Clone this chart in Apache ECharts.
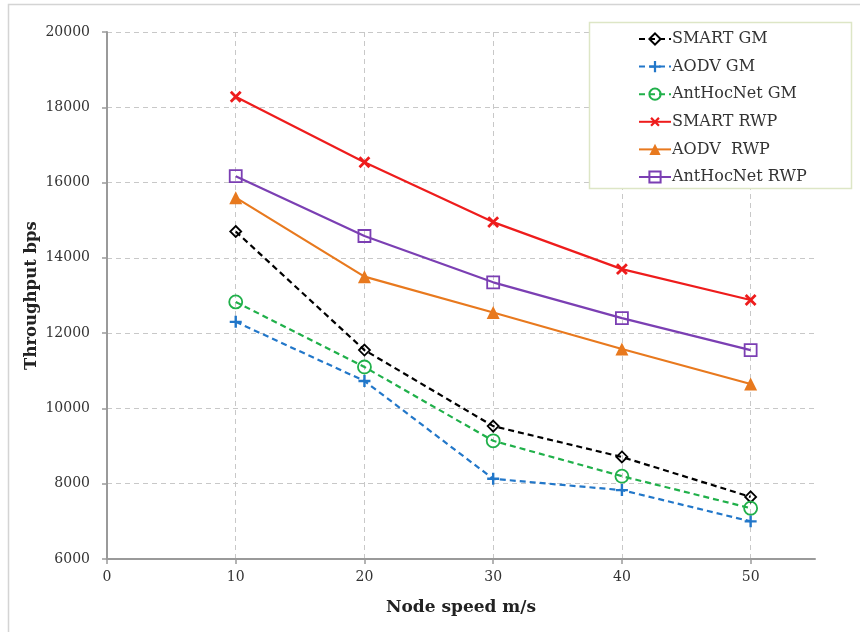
<!DOCTYPE html>
<html>
<head>
<meta charset="utf-8">
<title>Throughput vs node speed</title>
<script src="https://cdn.jsdelivr.net/npm/echarts@6/dist/echarts.min.js"></script>
<style>
  html, body { margin: 0; padding: 0; background: #fff; }
  #chart { width: 860px; height: 632px; }
</style>
</head>
<body>
<div id="chart"></div>
<script>
// Node speed (m/s) on the x axis
const speeds = [10, 20, 30, 40, 50];

// Throughput (bps) per protocol and mobility model
const smartGM = [14700, 11550, 9530, 8710, 7650];
const aodvGM = [12300, 10730, 8130, 7830, 7000];
const antHocNetGM = [12830, 11100, 9140, 8200, 7350];
const smartRWP = [18280, 16540, 14950, 13700, 12880];
const aodvRWP = [15600, 13500, 12550, 11580, 10650];
const antHocNetRWP = [16170, 14580, 13350, 12400, 11550];

const seriesNames = ['SMART GM', 'AODV GM', 'AntHocNet GM', 'SMART RWP', 'AODV  RWP', 'AntHocNet RWP'];

const plusPath = 'path://M4,0H6V4H10V6H6V10H4V6H0V4H4Z';
const serif = '"DejaVu Serif", "Liberation Serif", serif';

function pairs(values) {
  return speeds.map((s, i) => [s, values[i]]);
}

function lineSeries(name, values, color, dashed, marker) {
  return Object.assign({
    name: name,
    type: 'line',
    data: pairs(values),
    color: color,
    lineStyle: { color: color, width: 2.2, type: dashed ? [6, 4] : 'solid' },
    emphasis: { disabled: true },
    z: 3
  }, marker);
}

const chart = echarts.init(document.getElementById('chart'), null, { renderer: 'canvas' });

chart.setOption({
  animation: false,
  backgroundColor: '#fff',
  graphic: [
    {
      type: 'rect',
      shape: { x: 8.5, y: 4.5, width: 900, height: 700 },
      style: { fill: 'none', stroke: '#d4d4d4', lineWidth: 1.5 },
      silent: true, z: 0
    },
    {
      type: 'rect',
      shape: { x: 589.5, y: 22.5, width: 262, height: 166 },
      style: { fill: '#fff', stroke: '#dde6c6', lineWidth: 1.5 },
      silent: true, z: 10
    }
  ],
  grid: { left: 107, right: 45, top: 32, bottom: 73, containLabel: false },
  legend: {
    orient: 'vertical',
    left: 633,
    top: 26,
    itemWidth: 32,
    itemHeight: 14,
    itemGap: 11.6,
    z: 20,
    selectedMode: false,
    textStyle: { fontFamily: serif, fontSize: 16, color: '#333', padding: [0, 0, 0, -4] },
    data: seriesNames
  },
  xAxis: {
    type: 'value',
    min: 0,
    max: 55,
    interval: 10,
    name: 'Node speed m/s',
    nameLocation: 'middle',
    nameGap: 40,
    nameMoveOverlap: false,
    nameTextStyle: { fontFamily: serif, fontSize: 17, fontWeight: 'bold', color: '#222' },
    axisLine: { show: true, onZero: false, lineStyle: { color: '#9a9a9a', width: 2 } },
    axisTick: { show: true, length: 5, lineStyle: { color: '#9a9a9a', width: 1.5 } },
    axisLabel: { fontFamily: serif, fontSize: 14, color: '#333', margin: 11, showMaxLabel: false },
    splitLine: { show: true, showMinLine: false, showMaxLine: false, lineStyle: { color: '#c8c8c8', type: [5, 4], width: 1 } }
  },
  yAxis: {
    type: 'value',
    min: 6000,
    max: 20000,
    interval: 2000,
    name: 'Throughput bps',
    nameLocation: 'middle',
    nameGap: 67,
    nameMoveOverlap: false,
    nameTextStyle: { fontFamily: serif, fontSize: 16.5, fontWeight: 'bold', color: '#222' },
    axisLine: { show: true, lineStyle: { color: '#9a9a9a', width: 2 } },
    axisTick: { show: true, length: 5, lineStyle: { color: '#9a9a9a', width: 1.5 } },
    axisLabel: { fontFamily: serif, fontSize: 14, color: '#333', margin: 17, formatter: (v) => String(v) },
    splitLine: { show: true, showMinLine: false, lineStyle: { color: '#c8c8c8', type: [5, 4], width: 1 } }
  },
  series: [
    lineSeries(seriesNames[0], smartGM, '#000000', true, {
      symbol: 'diamond', symbolSize: 11,
      itemStyle: { color: 'rgba(255,255,255,0)', borderColor: '#000000', borderWidth: 1.8 }
    }),
    lineSeries(seriesNames[1], aodvGM, '#2277c9', true, {
      symbol: plusPath, symbolSize: 12,
      itemStyle: { color: '#2277c9', borderWidth: 0 }
    }),
    lineSeries(seriesNames[2], antHocNetGM, '#20b04a', true, {
      symbol: 'circle', symbolSize: 13,
      itemStyle: { color: 'rgba(255,255,255,0)', borderColor: '#20b04a', borderWidth: 1.8 }
    }),
    lineSeries(seriesNames[3], smartRWP, '#ee1c1c', false, {
      symbol: plusPath, symbolSize: 14, symbolRotate: 45,
      itemStyle: { color: '#ee1c1c', borderWidth: 0 }
    }),
    lineSeries(seriesNames[4], aodvRWP, '#e8791e', false, {
      symbol: 'triangle', symbolSize: 13,
      itemStyle: { color: '#e8791e', borderWidth: 0 }
    }),
    lineSeries(seriesNames[5], antHocNetRWP, '#7b3fb3', false, {
      symbol: 'rect', symbolSize: 12,
      itemStyle: { color: 'rgba(255,255,255,0)', borderColor: '#7b3fb3', borderWidth: 1.8 }
    })
  ]
});
</script>
</body>
</html>
